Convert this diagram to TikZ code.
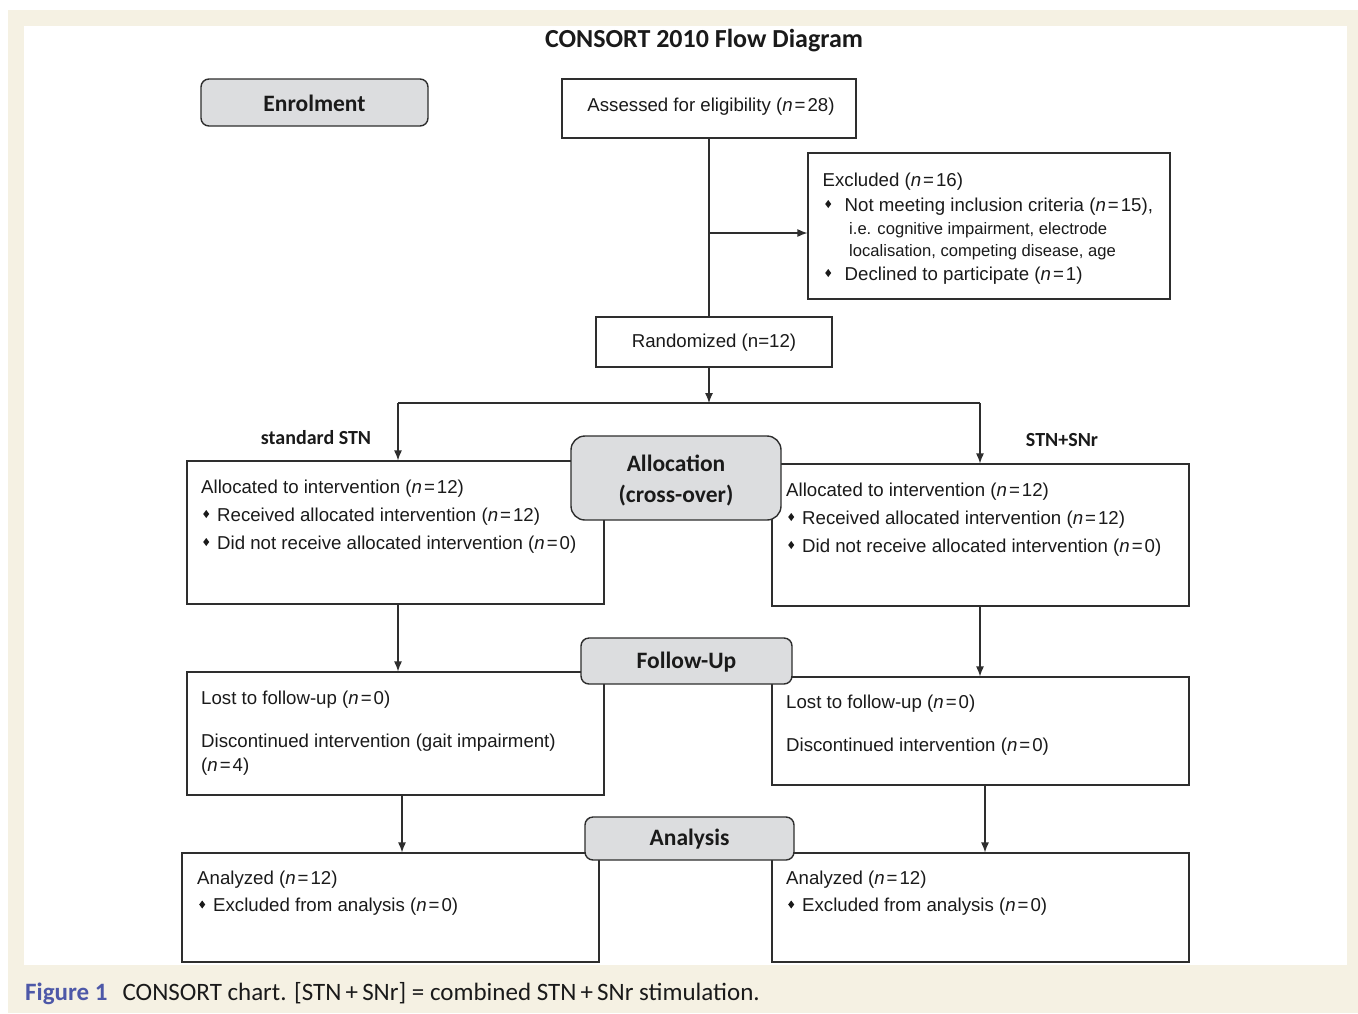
\documentclass[tikz,border=0pt]{standalone}
\usepackage{fontspec}
\setmainfont{Liberation Sans}
\newfontfamily\headfont{Carlito}
\usetikzlibrary{arrows.meta,calc}
\definecolor{beige}{HTML}{F5F1E3}
\definecolor{headgray}{HTML}{DCDDDF}
\definecolor{linec}{HTML}{2E2E2E}
\definecolor{txtc}{HTML}{1A1A1A}
\definecolor{figblue}{HTML}{4D58A8}
\newcommand\dmd{\tikz[x=1pt,y=1pt,baseline=0pt]\fill[txtc] (0,7)--(3,11)--(6,7)--(3,3)--cycle;}
\newcommand\nn[1]{(\textit{n}\kern2pt=\kern2pt#1)}
\begin{document}
\begin{tikzpicture}[x=1pt,y=-1pt,
  box/.style={draw=linec,line width=1.2pt,inner sep=0pt,fill=white},
  head/.style={draw=linec,line width=1.4pt,fill=headgray,rounded corners=8pt,inner sep=0pt},
  htxt/.style={inner sep=0pt,text=txtc,font=\headfont\bfseries\fontsize{23.5}{28}\selectfont},
  txt/.style={anchor=base west,inner sep=0pt,text=txtc,font=\fontsize{18.65}{22}\selectfont},
  stxt/.style={anchor=base west,inner sep=0pt,text=txtc,font=\fontsize{16.6}{20}\selectfont},
  lbl/.style={inner sep=0pt,text=txtc,font=\headfont\bfseries\fontsize{20}{24}\selectfont},
  conn/.style={draw=linec,line width=1.2pt},
  arr/.style={conn,-{Latex[length=10pt,width=8pt]}}]
\useasboundingbox (0,0) rectangle (1358,1013);
\fill[white] (0,0) rectangle (1358,1013);
\fill[beige] (8,10) rectangle (1358,1013);
\fill[white] (24,26) rectangle (1347,965);

% title
\node[inner sep=0pt,text=txtc,font=\headfont\bfseries\fontsize{26}{30}\selectfont] (title) at (704,40.5) {CONSORT 2010 Flow Diagram};

% boxes
\node[box,minimum width=294pt,minimum height=59pt] (assess) at (709,108.5) {};
\node[box,minimum width=362pt,minimum height=146pt] (excl) at (989,226) {};
\node[box,minimum width=236pt,minimum height=50pt] (rand) at (714,342) {};
\node[box,minimum width=417pt,minimum height=143pt] (allocL) at (395.5,532.5) {};
\node[box,minimum width=417pt,minimum height=142pt] (allocR) at (980.5,535) {};
\node[box,minimum width=417pt,minimum height=123pt] (followL) at (395.5,733.5) {};
\node[box,minimum width=417pt,minimum height=108pt] (followR) at (980.5,731) {};
\node[box,minimum width=417pt,minimum height=109pt] (anaL) at (390.5,907.5) {};
\node[box,minimum width=417pt,minimum height=109pt] (anaR) at (980.5,907.5) {};

% connectors
\coordinate (split) at (709,233);
\coordinate (junc) at (709,403);
\coordinate (bl) at (398,403);
\coordinate (br) at (980,403);
\draw[conn] (assess.south) -- (assess.south |- rand.north);
\draw[arr] (split) -- (split -| excl.west);
\draw[arr] (assess.south |- rand.south) -- (junc);
\draw[conn] (bl) -- (br);
\draw[arr] (bl) -- (bl |- allocL.north);
\draw[arr] (br) -- (br |- allocR.north);
\draw[arr] (allocL.south -| bl) -- (bl |- followL.north);
\draw[arr] (allocR.south -| br) -- (br |- followR.north);
\draw[arr] ([xshift=6.5pt]followL.south) -- ([xshift=6.5pt]followL.south |- anaL.north);
\draw[arr] ([xshift=4.5pt]followR.south) -- ([xshift=4.5pt]followR.south |- anaR.north);

% texts
\node[txt,anchor=base] (tAssess) at (711,111.5) {Assessed for eligibility \nn{28}};
\node[txt] (tEx1) at (822.5,186) {Excluded \nn{16}};
\node[txt] (tEx2) at (825,211) {\dmd\hspace{13.5pt}Not meeting inclusion criteria \nn{15},};
\node[stxt] (tEx3) at (849,234) {i.e. cognitive impairment, electrode};
\node[stxt] (tEx4) at (849,256) {localisation, competing disease, age};
\node[txt] (tEx5) at (825,280) {\dmd\hspace{13.5pt}Declined to participate \nn{1}};
\node[txt,anchor=base] (tRand) at (714,347.5) {Randomized (n=12)};

\node[lbl] (lStd) at (316,437.5) {standard STN};
\node[lbl] (lSNr) at (1062,440.5) {STN+SNr};

\node[txt] (tAL1) at (201,493) {Allocated to intervention \nn{12}};
\node[txt] (tAL2) at (203,521) {\dmd\hspace{8pt}Received allocated intervention \nn{12}};
\node[txt] (tAL3) at (203,549) {\dmd\hspace{8pt}Did not receive allocated intervention \nn{0}};
\node[txt] (tAR1) at (786,496) {Allocated to intervention \nn{12}};
\node[txt] (tAR2) at (788,524) {\dmd\hspace{8pt}Received allocated intervention \nn{12}};
\node[txt] (tAR3) at (788,552) {\dmd\hspace{8pt}Did not receive allocated intervention \nn{0}};

\node[txt] (tFL1) at (201,704.5) {Lost to follow-up \nn{0}};
\node[txt] (tFL2) at (201,747.5) {Discontinued intervention (gait impairment)};
\node[txt] (tFL3) at (201,771.5) {\nn{4}};
\node[txt] (tFR1) at (786,708.5) {Lost to follow-up \nn{0}};
\node[txt] (tFR2) at (786,751.5) {Discontinued intervention \nn{0}};

\node[txt] (tNL1) at (197,884.5) {Analyzed \nn{12}};
\node[txt] (tNL2) at (199,911.5) {\dmd\hspace{8pt}Excluded from analysis \nn{0}};
\node[txt] (tNR1) at (786,884.5) {Analyzed \nn{12}};
\node[txt] (tNR2) at (788,911.5) {\dmd\hspace{8pt}Excluded from analysis \nn{0}};

% heading boxes
\node[head,minimum width=227pt,minimum height=47pt] (enrol) at (314.5,102.5) {};
\node[head,minimum width=210pt,minimum height=84pt,rounded corners=14pt] (allocH) at (676,478) {};
\node[head,minimum width=211pt,minimum height=46pt] (followH) at (686.5,661) {};
\node[head,minimum width=209pt,minimum height=43pt] (anaH) at (689.5,838.5) {};
\node[htxt] (hEnrol) at (314.5,103) {Enrolment};
\node[htxt] (hAlloc1) at (676,463) {Allocation};
\node[htxt] (hAlloc2) at (676,496) {(cross-over)};
\node[htxt] (hFollow) at (686.5,662) {Follow-Up};
\node[htxt] (hAna) at (689.5,839.5) {Analysis};

% caption
\node[anchor=base west,inner sep=0pt,text=txtc,font=\headfont\fontsize{25}{29}\selectfont] (cap) at (25,1000)
  {{\color{figblue}\bfseries Figure 1}\hspace{15pt}CONSORT chart. [STN\,+\,SNr] = combined STN\,+\,SNr stimulation.};
\end{tikzpicture}
\end{document}
